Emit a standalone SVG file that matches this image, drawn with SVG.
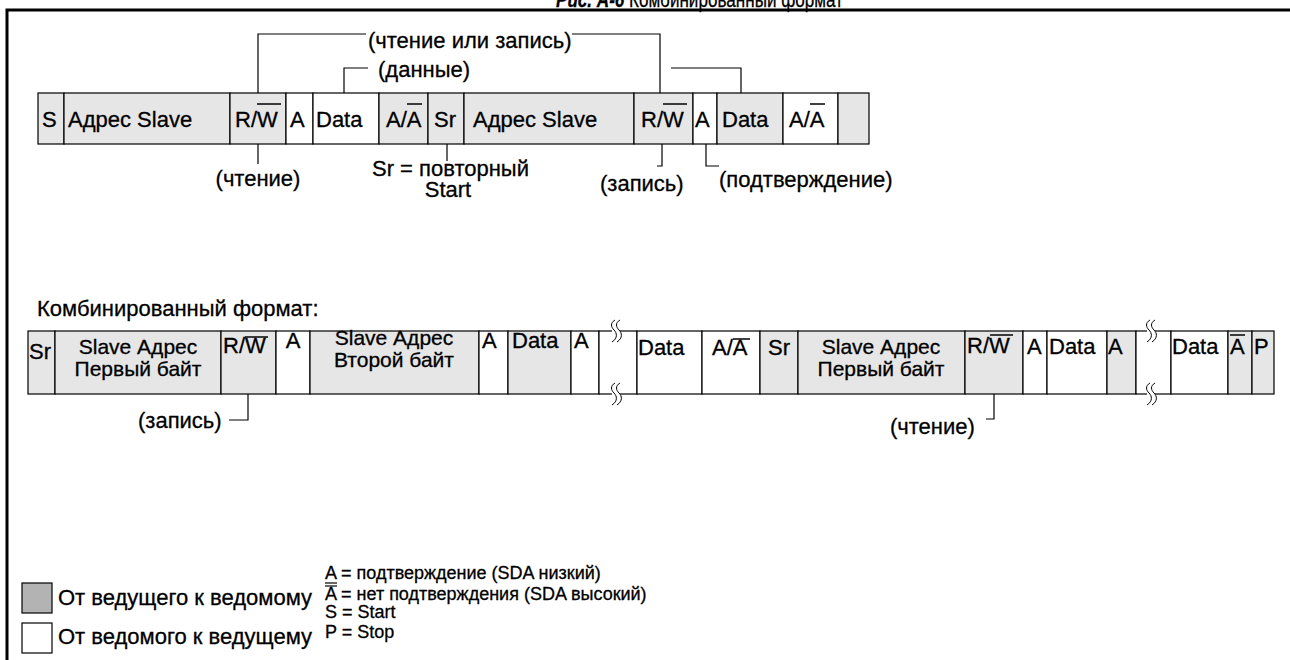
<svg xmlns="http://www.w3.org/2000/svg" width="1290" height="660" viewBox="0 0 1290 660">
<style>
text{font-family:"Liberation Sans",Arial,sans-serif;font-size:22px;fill:#000;stroke:#000;stroke-width:0.3}
.g{fill:#e6e6e6;stroke:#000;stroke-width:1.2}
.w{fill:#fff;stroke:#000;stroke-width:1.2}
.ln{fill:none;stroke:#000;stroke-width:1.2}
.ov{stroke:#000;stroke-width:1.5}
.c{text-anchor:middle}
.two{font-size:21px}
.sm{font-size:18px}
</style>
<defs>
<g id="brk">
<rect x="-3" y="-2" width="8" height="4" fill="#fff"/>
<path d="M0,-11 C-5,-8 -4,-4 -1,-1 C2,2 3,7 -3,11 M5,-11 C0,-8 1,-4 4,-1 C7,2 8,7 2,11" fill="none" stroke="#000" stroke-width="1"/>
</g>
</defs>
<rect width="1290" height="660" fill="#fff"/>
<g id="title">
<text x="556" y="7" textLength="287" lengthAdjust="spacingAndGlyphs" font-size="21"><tspan font-weight="bold" font-style="italic">Рис. А-6</tspan> Комбинированный формат</text>
</g>
<g id="frame">
<path d="M7,660 V10 H1290" fill="none" stroke="#000" stroke-width="3"/>
</g>

<g id="connectors">
<path class="ln" d="M258,93 V34 H366 M572,34 H660 V93"/>
<path class="ln" d="M344,93 V68 H368"/>
<path class="ln" d="M671,68 H741 V93"/>
<path class="ln" d="M258,144 V164"/>
<path class="ln" d="M447,144 V161"/>
<path class="ln" d="M662,144 V166 H657"/>
<path class="ln" d="M706,144 V166 H719"/>
<path class="ln" d="M248,394 V420 H229"/>
<path class="ln" d="M994,394 V419 H986"/>
</g>

<g id="connector-labels">
<text x="368" y="48">(чтение или запись)</text>
<text x="378" y="77">(данные)</text>
<text x="258" y="186" class="c">(чтение)</text>
<text x="372" y="176">Sr = повторный</text>
<text x="448" y="197" class="c">Start</text>
<text x="600" y="191">(запись)</text>
<text x="719" y="187">(подтверждение)</text>
<text x="138" y="428">(запись)</text>
<text x="890" y="434">(чтение)</text>
</g>

<!-- Top row -->
<g id="t-s"><rect class="g" x="38" y="93" width="26" height="51"/><text x="42" y="127">S</text></g>
<g id="t-addr1"><rect class="g" x="64" y="93" width="166" height="51"/><text x="68" y="127">Адрес Slave</text></g>
<g id="t-rw1"><rect class="g" x="230" y="93" width="56" height="51"/><text x="235" y="127">R/W</text><line class="ov" x1="257" y1="104" x2="281" y2="104"/></g>
<g id="t-a1"><rect class="w" x="286" y="93" width="27" height="51"/><text x="290" y="127">A</text></g>
<g id="t-data1"><rect class="w" x="313" y="93" width="66" height="51"/><text x="316" y="127">Data</text></g>
<g id="t-aa1"><rect class="g" x="379" y="93" width="49" height="51"/><text x="386" y="127">A/A</text><line class="ov" x1="407" y1="104" x2="422" y2="104"/></g>
<g id="t-sr"><rect class="g" x="428" y="93" width="36" height="51"/><text x="434" y="127">Sr</text></g>
<g id="t-addr2"><rect class="g" x="464" y="93" width="170" height="51"/><text x="473" y="127">Адрес Slave</text></g>
<g id="t-rw2"><rect class="g" x="634" y="93" width="59" height="51"/><text x="641" y="127">R/W</text><line class="ov" x1="663" y1="104" x2="687" y2="104"/></g>
<g id="t-a2"><rect class="w" x="693" y="93" width="24" height="51"/><text x="695" y="127">A</text></g>
<g id="t-data2"><rect class="g" x="717" y="93" width="66" height="51"/><text x="722" y="127">Data</text></g>
<g id="t-aa2"><rect class="w" x="783" y="93" width="55" height="51"/><text x="789" y="127">A/A</text><line class="ov" x1="810" y1="104" x2="825" y2="104"/></g>
<g id="t-end"><rect class="g" x="838" y="93" width="31" height="51"/></g>

<!-- Bottom row -->
<g id="label-combined"><text x="37" y="316">Комбинированный формат:</text></g>
<g id="b-sr1"><rect class="g" x="28" y="331" width="27" height="63"/><text x="29" y="359">Sr</text></g>
<g id="b-slave1"><rect class="g" x="55" y="331" width="166" height="63"/><text x="138" y="354" class="c two">Slave Адрес</text><text x="138" y="376" class="c two">Первый байт</text></g>
<g id="b-rw1"><rect class="g" x="221" y="331" width="55" height="63"/><text x="223" y="353">R/W</text><line class="ov" x1="245" y1="337" x2="268" y2="337"/></g>
<g id="b-a1"><rect class="w" x="276" y="331" width="34" height="63"/><text x="293" y="348" class="c">A</text></g>
<g id="b-slave2"><rect class="g" x="310" y="331" width="169" height="63"/><text x="394" y="345" class="c two">Slave Адрес</text><text x="394" y="367" class="c two">Второй байт</text></g>
<g id="b-a2"><rect class="w" x="479" y="331" width="29" height="63"/><text x="482" y="348">A</text></g>
<g id="b-data1"><rect class="g" x="508" y="331" width="63" height="63"/><text x="512" y="348">Data</text></g>
<g id="b-a3"><rect class="w" x="571" y="331" width="28" height="63"/><text x="574" y="348">A</text></g>
<g id="b-gap1"><rect class="w" x="599" y="331" width="38" height="63"/><use href="#brk" x="615" y="331"/><use href="#brk" x="615" y="394"/></g>
<g id="b-data2"><rect class="w" x="637" y="331" width="65" height="63"/><text x="638" y="355">Data</text></g>
<g id="b-aa"><rect class="w" x="702" y="331" width="58" height="63"/><text x="712" y="355">A/A</text><line class="ov" x1="733" y1="339" x2="750" y2="339"/></g>
<g id="b-sr2"><rect class="g" x="760" y="331" width="38" height="63"/><text x="768" y="355">Sr</text></g>
<g id="b-slave3"><rect class="g" x="798" y="331" width="167" height="63"/><text x="881" y="354" class="c two">Slave Адрес</text><text x="881" y="376" class="c two">Первый байт</text></g>
<g id="b-rw2"><rect class="g" x="965" y="331" width="58" height="63"/><text x="967" y="353">R/W</text><line class="ov" x1="990" y1="335" x2="1013" y2="335"/></g>
<g id="b-a4"><rect class="w" x="1023" y="331" width="24" height="63"/><text x="1027" y="354">A</text></g>
<g id="b-data3"><rect class="w" x="1047" y="331" width="60" height="63"/><text x="1049" y="354">Data</text></g>
<g id="b-a5"><rect class="g" x="1107" y="331" width="29" height="63"/><text x="1108" y="354">A</text></g>
<g id="b-gap2"><rect class="w" x="1136" y="331" width="35" height="63"/><use href="#brk" x="1150" y="331"/><use href="#brk" x="1150" y="394"/></g>
<g id="b-data4"><rect class="w" x="1171" y="331" width="57" height="63"/><text x="1172" y="354">Data</text></g>
<g id="b-nack"><rect class="g" x="1228" y="331" width="24" height="63"/><text x="1230" y="354">A</text><line class="ov" x1="1230" y1="335" x2="1245" y2="335"/></g>
<g id="b-p"><rect class="g" x="1252" y="331" width="22" height="63"/><text x="1254" y="354">P</text></g>

<!-- Legend -->
<g id="legend-m2s"><rect x="22" y="583" width="30" height="30" fill="#b3b3b3" stroke="#000" stroke-width="1.2"/><text x="58" y="605">От ведущего к ведомому</text></g>
<g id="legend-s2m"><rect x="22" y="623" width="30" height="30" fill="#fff" stroke="#000" stroke-width="1.2"/><text x="58" y="644">От ведомого к ведущему</text></g>
<g id="legend-defs">
<text class="sm" x="325" y="579">A = подтверждение (SDA низкий)</text>
<line x1="325" y1="583" x2="337" y2="583" stroke="#000" stroke-width="1.2"/>
<text class="sm" x="325" y="600">A = нет подтверждения (SDA высокий)</text>
<line x1="325" y1="586" x2="337" y2="586" stroke="#000" stroke-width="1.2"/>
<text class="sm" x="325" y="618">S = Start</text>
<text class="sm" x="325" y="638">P = Stop</text>
</g>
</svg>
